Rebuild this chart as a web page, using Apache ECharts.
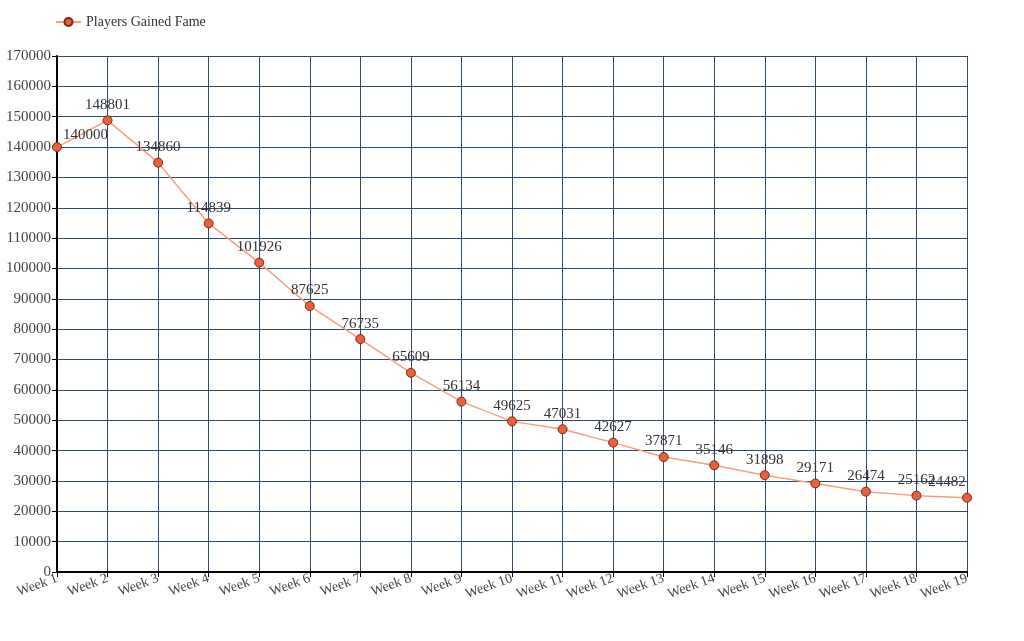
<!DOCTYPE html>
<html><head><meta charset="utf-8">
<script src="https://cdn.jsdelivr.net/npm/echarts@6/dist/echarts.min.js"></script>
<style>html,body{margin:0;padding:0;background:#fff}#c{width:1024px;height:641px}</style>
</head><body><div id="c"></div>
<script>
const categories = ["Week 1","Week 2","Week 3","Week 4","Week 5","Week 6","Week 7","Week 8","Week 9","Week 10","Week 11","Week 12","Week 13","Week 14","Week 15","Week 16","Week 17","Week 18","Week 19"];
const fameValues = [140000,148801,134860,114839,101926,87625,76735,65609,56134,49625,47031,42627,37871,35146,31898,29171,26474,25162,24482];
const seriesName = "Players Gained Fame";

const font = "Liberation Serif";
const data = fameValues.map((v,i)=>{
  const d = {value:v};
  if(i===0) d.label = {position:'right', offset:[-2,-12]};
  if(i===fameValues.length-1) d.label = {offset:[-20,0]};
  return d;
});
const chart = echarts.init(document.getElementById('c'));
chart.setOption({
  animation:false,
  textStyle:{fontFamily:font},
  legend:{left:50, top:10, itemWidth:25, itemHeight:10, itemGap:5,
    textStyle:{fontFamily:font, fontSize:14, color:'#333'}, data:[seriesName]},
  grid:{left:57, right:57, top:56, bottom:69, containLabel:false},
  xAxis:{type:'category', data:categories, boundaryGap:false,
    axisLine:{lineStyle:{color:'#000', width:2}},
    axisTick:{show:true, length:5, interval:0, lineStyle:{color:'#000'}},
    axisLabel:{rotate:20, interval:0, hideOverlap:false, fontFamily:font, fontSize:14, color:'#444', margin:6},
    splitLine:{show:true, interval:0, lineStyle:{color:'#2c4a6a', width:1}}},
  yAxis:{type:'value', min:0, max:170000, interval:10000,
    axisLine:{show:true, lineStyle:{color:'#000', width:2}},
    axisTick:{show:true, length:5, lineStyle:{color:'#000'}},
    axisLabel:{fontFamily:font, fontSize:15, color:'#444', margin:6, formatter:v=>String(v)},
    splitLine:{show:true, lineStyle:{color:'#2c4a6a', width:1}}},
  series:[{name:seriesName, type:'line', data:data, smooth:false,
    symbol:'circle', symbolSize:9,
    lineStyle:{color:'#f4a080', width:1.5},
    itemStyle:{color:'#e8603c', borderColor:'#7a2a10', borderWidth:1},
    label:{show:true, position:'top', distance:3, fontFamily:font, fontSize:15, color:'#333'}}]
});
</script></body></html>
